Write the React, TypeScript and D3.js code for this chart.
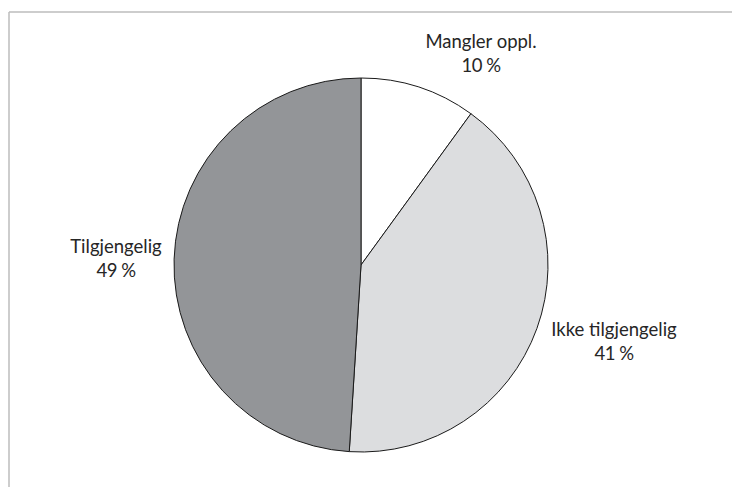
import React from "react";
import * as d3 from "d3";

const categories = ["Mangler oppl.", "Ikke tilgjengelig", "Tilgjengelig"];
const values = [10, 41, 49];
const valueLabels = ["10 %", "41 %", "49 %"];
const colors = ["#ffffff", "#dcdddf", "#939598"];

const W = 732;
const H = 487;
const cx = 361;
const cy = 265;
const R = 187;

const labelOffsets = [
  { dx: 120, dy: -217 },
  { dx: 253, dy: 71 },
  { dx: -245, dy: -12 },
];

export default function App() {
  const pie = d3.pie<number>().sort(null).value((d) => d)(values);
  const arc = d3.arc<d3.PieArcDatum<number>>().innerRadius(0).outerRadius(R);
  const font = "Lato, 'Open Sans', sans-serif";
  return (
    <svg
      width={W}
      height={H}
      style={{ position: "absolute", left: 0, top: 0, background: "#fff" }}
    >
      <line x1={9} y1={12} x2={W} y2={12} stroke="#bdbdbd" strokeWidth={1.5} />
      <line x1={9} y1={12} x2={9} y2={H} stroke="#bdbdbd" strokeWidth={1.5} />
      <g transform={`translate(${cx},${cy})`}>
        {pie.map((p, i) => (
          <path
            key={i}
            d={arc(p) || ""}
            fill={colors[i]}
            stroke="#1a1a1a"
            strokeWidth={1}
          />
        ))}
        {pie.map((p, i) => (
          <text
            key={"t" + i}
            x={labelOffsets[i].dx}
            y={labelOffsets[i].dy}
            textAnchor="middle"
            fontFamily={font}
            fontSize={18.5}
            fill="#262626"
          >
            <tspan x={labelOffsets[i].dx}>{categories[i]}</tspan>
            <tspan x={labelOffsets[i].dx} dy={24} letterSpacing={-0.5}>
              {valueLabels[i]}
            </tspan>
          </text>
        ))}
      </g>
    </svg>
  );
}
